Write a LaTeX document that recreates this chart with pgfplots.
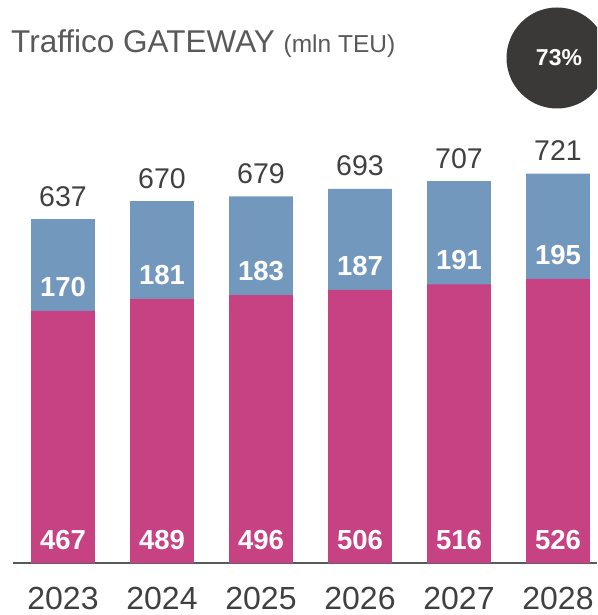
\documentclass[border=0pt]{standalone}
\usepackage{pgfplots}
\pgfplotsset{compat=1.18}
\usepackage{pgfplotstable}
\usepackage{fontspec}
\setmainfont{Liberation Sans}
\definecolor{pinkbar}{HTML}{C74283}
\definecolor{bluebar}{HTML}{7398BE}
\definecolor{darkcirc}{HTML}{3A3938}
\definecolor{txtgrey}{HTML}{404040}
\definecolor{titlegrey}{HTML}{595959}
\definecolor{axisgrey}{HTML}{595959}
\pgfplotstableread{
x pink blue total zero
0 467 170 637 0
1 489 181 670 0
2 496 183 679 0
3 506 187 693 0
4 516 191 707 0
5 526 195 721 0
}\datatable
\begin{document}
\begin{tikzpicture}[x=1pt,y=1pt]
\path[use as bounding box, clip] (0,0) rectangle (597,615);
\begin{axis}[
  at={(13pt,52pt)}, anchor=south west,
  scale only axis, width=584pt, height=448.2pt,
  xmin=-0.505, xmax=5.394, ymin=0, ymax=830,
  clip=false,
  hide y axis,
  axis x line*=bottom,
  x axis line style={line width=1.5pt, draw=axisgrey},
  xtick={0,1,2,3,4,5},
  xticklabels={2023,2024,2025,2026,2027,2028},
  major tick length=0pt,
  /pgf/number format/assume math mode=true,
  xticklabel style={anchor=base, yshift=-46pt, inner sep=0pt, font=\fontsize{32}{34}\selectfont, text=txtgrey},
]
\addplot[ybar, bar width=0.646, bar shift=0pt, fill=bluebar, draw=none] table[x=x, y=total] {\datatable};
\addplot[ybar, bar width=0.646, bar shift=0pt, fill=pinkbar, draw=none] table[x=x, y=pink] {\datatable};
% labels
\addplot[draw=none, mark=none, point meta=explicit symbolic, nodes near coords,
  nodes near coords style={anchor=base, yshift=14pt, text=white, font=\bfseries\fontsize{27.5}{29}\selectfont}]
  table[x=x, y=zero, meta=pink] {\datatable};
\addplot[draw=none, mark=none, point meta=explicit symbolic, nodes near coords,
  nodes near coords style={anchor=base, yshift=14.5pt, text=white, font=\bfseries\fontsize{27.5}{29}\selectfont}]
  table[x=x, y=pink, meta=blue] {\datatable};
\addplot[draw=none, mark=none, point meta=explicit symbolic, nodes near coords,
  nodes near coords style={anchor=base, yshift=13pt, text=txtgrey, font=\fontsize{28.5}{30}\selectfont}]
  table[x=x, y=total, meta=total] {\datatable};
\end{axis}
\node[anchor=base west, inner sep=0pt, text=titlegrey] at (11,562) {\fontsize{31.5}{33}\selectfont Traffico GATEWAY \fontsize{24.5}{26}\selectfont(mln TEU)};
\fill[darkcirc] (557,557) circle (50.5);
\node[anchor=base, inner sep=0pt, text=white, font=\bfseries\fontsize{23}{24}\selectfont] at (559,549) {73\%};
\end{tikzpicture}
\end{document}
